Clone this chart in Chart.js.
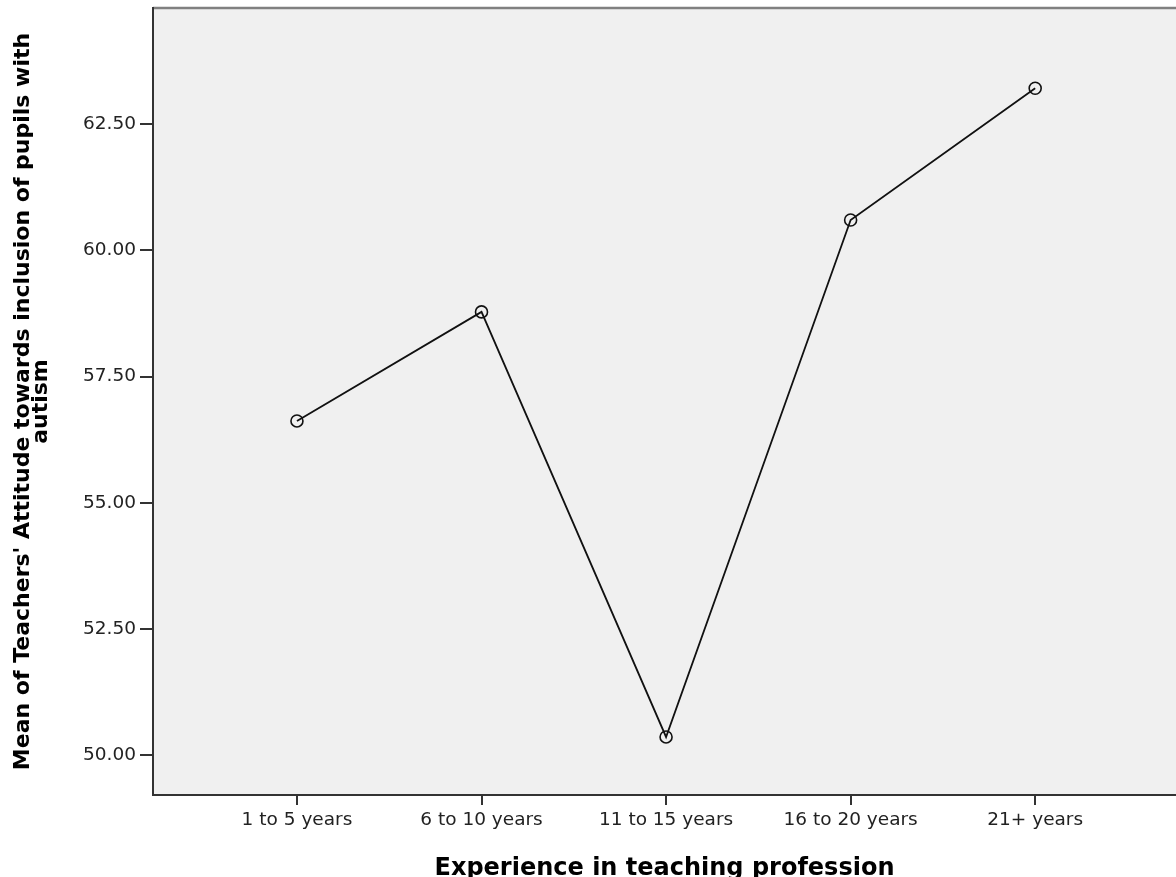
<!DOCTYPE html>
<html>
<head>
<meta charset="utf-8">
<script src="https://cdn.jsdelivr.net/npm/chart.js@4.4.1/dist/chart.umd.min.js"></script>
<style>
  html, body { margin: 0; padding: 0; background: #fff; overflow: hidden; }
  #wrap { width: 1176px; height: 877px; position: relative; }
</style>
</head>
<body>
<div id="wrap"><canvas id="chart"></canvas></div>
<script>
const categories = ["1 to 5 years", "6 to 10 years", "11 to 15 years", "16 to 20 years", "21+ years"];
const meanAttitude = [56.62, 58.78, 50.36, 60.60, 63.21];
const yTicks = [50, 52.5, 55, 57.5, 60, 62.5];

// grey plot background and the top border line
const plotFrame = {
    id: "plotFrame",
    beforeDraw(chart) {
        const { ctx, chartArea: a } = chart;
        ctx.save();
        ctx.fillStyle = "#f0f0f0";
        ctx.fillRect(a.left, a.top, a.right - a.left, a.bottom - a.top);
        ctx.strokeStyle = "#808080";
        ctx.lineWidth = 2.5;
        ctx.beginPath();
        ctx.moveTo(a.left, a.top);
        ctx.lineTo(a.right, a.top);
        ctx.stroke();
        ctx.restore();
    },
};

const points = meanAttitude.map((v, i) => ({ x: i, y: v }));

new Chart(document.querySelector("#chart").getContext("2d"), {
    type: "line",
    data: {
        datasets: [
            {
                data: points,
                borderColor: "#111",
                borderWidth: 1.8,
                pointRadius: 6,
                pointHoverRadius: 6,
                pointBorderWidth: 1.6,
                pointBorderColor: "#111",
                pointBackgroundColor: "rgba(0,0,0,0)",
                tension: 0,
            },
        ],
    },
    options: {
        responsive: true,
        maintainAspectRatio: false,
        animation: false,
        layout: { autoPadding: false, padding: { top: 8, right: 0, left: 0, bottom: 0 } },
        plugins: { legend: { display: false }, tooltip: { enabled: false } },
        scales: {
            x: {
                type: "linear",
                min: -0.78,
                max: 4.763,
                afterBuildTicks: (s) => { s.ticks = categories.map((c, i) => ({ value: i })); },
                afterFit: (s) => { s.height = 82; s.paddingLeft = 0; s.paddingRight = 0; },
                ticks: {
                    callback: (v) => categories[v],
                    color: "#222",
                    font: { family: "DejaVu Sans", size: 18.5 },
                    maxRotation: 0,
                    padding: 4,
                },
                grid: { drawOnChartArea: false, drawTicks: true, tickLength: 10, color: "#333", lineWidth: 2 },
                border: { color: "#333", width: 2 },
                title: {
                    display: true,
                    text: "Experience in teaching profession",
                    color: "#000",
                    font: { family: "DejaVu Sans", size: 24, weight: "bold", lineHeight: 0.6 },
                    padding: { top: 0, bottom: 1 },
                },
            },
            y: {
                min: 49.21,
                max: 64.8,
                afterBuildTicks: (s) => { s.ticks = yTicks.map((v) => ({ value: v })); },
                afterFit: (s) => { s.width = 153; s.paddingTop = 0; s.paddingBottom = 0; },
                ticks: {
                    callback: (v) => v.toFixed(2),
                    color: "#222",
                    font: { family: "DejaVu Sans", size: 18.5 },
                    padding: 4,
                },
                grid: { drawOnChartArea: false, drawTicks: true, tickLength: 13, color: "#333", lineWidth: 2 },
                border: { color: "#333", width: 2 },
                title: {
                    display: true,
                    text: ["Mean of Teachers' Attitude towards inclusion of pupils with", "autism"],
                    color: "#000",
                    font: { family: "DejaVu Sans", size: 22, weight: "bold", lineHeight: 0.82 },
                    padding: { top: 14 },
                },
            },
        },
    },
    plugins: [plotFrame],
});
</script>
</body>
</html>
